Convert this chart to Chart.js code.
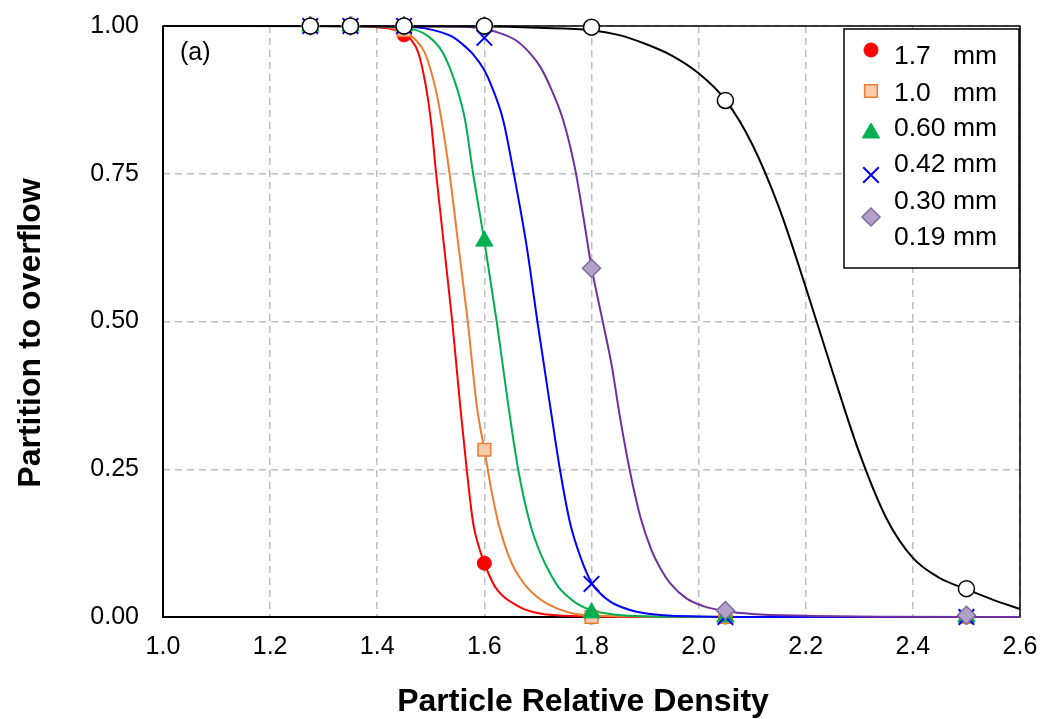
<!DOCTYPE html>
<html>
<head>
<meta charset="utf-8">
<script src="https://cdn.jsdelivr.net/npm/chart.js@4.4.1/dist/chart.umd.min.js"></script>
<style>
  body { margin: 0; background: #fff; }
  #chart { display: block; }
</style>
</head>
<body>
<canvas id="chart" width="1043" height="719"></canvas>
<script>
// measured partition points (symbols)
const densityX = [1.275, 1.35, 1.45, 1.6, 1.8, 2.05, 2.5];
const sizeLabels = ['1.7   mm', '1.0   mm', '0.60 mm', '0.42 mm', '0.30 mm', '0.19 mm'];
const meas17 = [1, 1, 0.985, 0.091, 0, 0, 0];
const meas10 = [1, 1, 0.993, 0.283, 0, 0, 0];
const meas060 = [1, 1, 1, 0.636, 0.007, 0, 0];
const meas042 = [1, 1, 1, 0.98, 0.056, 0, 0];
const meas030 = [1, 1, 1, 1, 0.59, 0.011, 0.003];
const meas019 = [1, 1, 1, 1, 0.998, 0.874, 0.048];

// fitted curves
const fit17X = [1.0, 1.30, 1.38, 1.42, 1.445, 1.462, 1.477, 1.491, 1.500, 1.510, 1.525, 1.540, 1.555, 1.567, 1.579, 1.590, 1.600, 1.610, 1.620, 1.635, 1.654, 1.675, 1.704, 1.75, 1.82, 2.0, 2.6];
const fit17Y = [1.0, 1.0, 0.999, 0.996, 0.990, 0.978, 0.954, 0.897, 0.841, 0.750, 0.625, 0.500, 0.356, 0.250, 0.159, 0.118, 0.091, 0.069, 0.051, 0.035, 0.023, 0.013, 0.006, 0.002, 0.0005, 0, 0];
const fit10X = [1.0, 1.30, 1.40, 1.43, 1.45, 1.470, 1.489, 1.508, 1.520, 1.535, 1.552, 1.569, 1.586, 1.600, 1.613, 1.626, 1.638, 1.651, 1.665, 1.679, 1.697, 1.716, 1.740, 1.766, 1.81, 1.90, 2.05, 2.6];
const fit10Y = [1.0, 1.0, 0.999, 0.996, 0.990, 0.978, 0.954, 0.897, 0.841, 0.750, 0.625, 0.500, 0.356, 0.283, 0.215, 0.159, 0.122, 0.091, 0.068, 0.051, 0.035, 0.023, 0.013, 0.006, 0.002, 0.0005, 0, 0];
const fit060X = [1.0, 1.30, 1.42, 1.46, 1.486, 1.505, 1.523, 1.548, 1.564, 1.579, 1.600, 1.623, 1.645, 1.663, 1.685, 1.700, 1.713, 1.738, 1.755, 1.772, 1.800, 1.828, 1.87, 1.95, 2.10, 2.6];
const fit060Y = [1.0, 1.0, 0.999, 0.996, 0.988, 0.975, 0.954, 0.897, 0.841, 0.750, 0.636, 0.500, 0.356, 0.250, 0.159, 0.118, 0.091, 0.051, 0.035, 0.023, 0.011, 0.006, 0.002, 0.0005, 0, 0];
const fit042X = [1.0, 1.35, 1.45, 1.49, 1.517, 1.540, 1.558, 1.579, 1.600, 1.614, 1.635, 1.655, 1.679, 1.699, 1.723, 1.741, 1.760, 1.780, 1.800, 1.815, 1.835, 1.858, 1.884, 1.934, 2.00, 2.10, 2.6];
const fit042Y = [1.0, 1.0, 0.999, 0.996, 0.990, 0.982, 0.970, 0.952, 0.925, 0.897, 0.841, 0.750, 0.627, 0.500, 0.356, 0.250, 0.159, 0.100, 0.058, 0.041, 0.026, 0.016, 0.009, 0.003, 0.001, 0, 0];
const fit030X = [1.0, 1.45, 1.55, 1.60, 1.629, 1.660, 1.685, 1.705, 1.723, 1.747, 1.769, 1.785, 1.800, 1.821, 1.838, 1.853, 1.871, 1.891, 1.912, 1.930, 1.947, 1.978, 2.010, 2.05, 2.10, 2.20, 2.35, 2.6];
const fit030Y = [1.0, 1.0, 0.999, 0.995, 0.988, 0.975, 0.954, 0.930, 0.897, 0.841, 0.760, 0.676, 0.592, 0.500, 0.424, 0.339, 0.250, 0.170, 0.113, 0.080, 0.057, 0.031, 0.018, 0.010, 0.005, 0.002, 0.0005, 0];
const fit019X = [1.0, 1.6, 1.7, 1.8, 1.85, 1.9, 1.95, 2.0, 2.05, 2.1, 2.15, 2.2, 2.25, 2.3, 2.35, 2.4, 2.45, 2.5, 2.55, 2.6];
const fit019Y = [1.0, 0.999, 0.997, 0.993, 0.985, 0.970, 0.950, 0.920, 0.875, 0.800, 0.693, 0.558, 0.415, 0.278, 0.168, 0.100, 0.066, 0.047, 0.029, 0.0135];

const xTickValues = [1.0, 1.2, 1.4, 1.6, 1.8, 2.0, 2.2, 2.4, 2.6];
const yTickValues = [0, 0.25, 0.5, 0.75, 1.0];

// one entry per size fraction, in legend order
const series = [
    { label: sizeLabels[0], meas: meas17, fitX: fit17X, fitY: fit17Y, line: '#FF0000', style: 'circle', radius: 7, fill: '#FF0000', border: '#FF0000', bw: 1 },
    { label: sizeLabels[1], meas: meas10, fitX: fit10X, fitY: fit10Y, line: '#ED7D31', style: 'rect', radius: 9, fill: '#F8CBAD', border: '#ED7D31', bw: 1.5 },
    { label: sizeLabels[2], meas: meas060, fitX: fit060X, fitY: fit060Y, line: '#00B050', style: 'triangle', radius: 10, fill: '#00B050', border: '#00B050', bw: 1 },
    { label: sizeLabels[3], meas: meas042, fitX: fit042X, fitY: fit042Y, line: '#0000FF', style: 'crossRot', radius: 11, fill: '#0000FF', border: '#0000FF', bw: 2 },
    { label: sizeLabels[4], meas: meas030, fitX: fit030X, fitY: fit030Y, line: '#7030A0', style: 'rectRot', radius: 9, fill: '#B1A0C7', border: '#7F6A9F', bw: 1.5 },
    { label: sizeLabels[5], meas: meas019, fitX: fit019X, fitY: fit019Y, line: '#000000', style: 'circle', radius: 8, fill: '#FFFFFF', border: '#000000', bw: 1.5 }
];

// first dataset is drawn on top, so go from the last series to the first
const markerSets = series.slice().reverse().map(s => ({
    type: 'scatter',
    label: s.label,
    data: densityX.map((x, i) => ({ x: x, y: s.meas[i] })),
    pointStyle: s.style,
    pointRadius: s.radius,
    pointHoverRadius: s.radius,
    backgroundColor: s.fill,
    borderColor: s.border,
    pointBorderWidth: s.bw,
    showLine: false,
    clip: false
}));
const curveSets = series.slice().reverse().map(s => ({
    type: 'line',
    label: s.label + ' fit',
    data: s.fitX.map((x, i) => ({ x: x, y: s.fitY[i] })),
    borderColor: s.line,
    borderWidth: 2,
    pointRadius: 0,
    fill: false,
    cubicInterpolationMode: 'monotone',
    clip: false
}));

const FONT = '"Liberation Sans", Arial, sans-serif';

// frame, (a) label, axis titles and the boxed legend
const decorations = {
    id: 'decorations',
    beforeDatasetsDraw(chart) {
        const ctx = chart.ctx;
        const a = chart.chartArea;
        ctx.save();
        ctx.strokeStyle = '#000';
        ctx.lineWidth = 1.5;
        ctx.strokeRect(a.left, a.top, a.right - a.left, a.bottom - a.top);
        ctx.lineWidth = 2;
        ctx.beginPath();
        ctx.moveTo(a.left, a.top);
        ctx.lineTo(a.left, a.bottom);
        ctx.lineTo(a.right, a.bottom);
        ctx.stroke();

        ctx.fillStyle = '#000';
        ctx.font = '25px ' + FONT;
        ctx.textAlign = 'left';
        ctx.textBaseline = 'middle';
        ctx.fillText('(a)', 180, 53);
        ctx.restore();
    },
    afterDraw(chart) {
        const ctx = chart.ctx;
        ctx.save();
        // axis titles
        ctx.fillStyle = '#000';
        ctx.font = 'bold 32px ' + FONT;
        ctx.textAlign = 'center';
        ctx.textBaseline = 'middle';
        ctx.fillText('Particle Relative Density', 583, 702);
        ctx.translate(31, 333);
        ctx.rotate(-Math.PI / 2);
        ctx.fillText('Partition to overflow', 0, 0);
        ctx.restore();

        // legend box
        ctx.save();
        ctx.fillStyle = '#fff';
        ctx.fillRect(844, 29, 175, 239);
        ctx.strokeStyle = '#000';
        ctx.lineWidth = 1.5;
        ctx.strokeRect(844, 29, 175, 239);
        const markerY = [50, 91, 133, 175, 217];
        const textY = [57, 94, 129, 165, 202, 238];
        ctx.font = '26.5px ' + FONT;
        ctx.textAlign = 'left';
        ctx.textBaseline = 'middle';
        series.forEach((s, i) => {
            ctx.fillStyle = '#000';
            ctx.fillText(s.label, 894, textY[i]);
            if (i < markerY.length) {
                ctx.fillStyle = s.fill;
                ctx.strokeStyle = s.border;
                ctx.lineWidth = s.bw;
                Chart.helpers.drawPoint(ctx, { pointStyle: s.style, radius: s.radius, rotation: 0, borderWidth: s.bw }, 871, markerY[i]);
            }
        });
        ctx.restore();
    }
};

new Chart(document.getElementById('chart'), {
    data: { datasets: markerSets.concat(curveSets) },
    options: {
        responsive: false,
        animation: false,
        devicePixelRatio: 1,
        layout: { padding: { left: 0, right: 23, top: 26, bottom: 0 } },
        plugins: {
            legend: { display: false },
            tooltip: { enabled: false }
        },
        scales: {
            x: {
                type: 'linear',
                min: 1.0,
                max: 2.6,
                afterFit: scale => {
                    scale.height = 102;
                    scale.paddingLeft = 0;
                    scale.paddingRight = 0;
                },
                afterBuildTicks: scale => { scale.ticks = xTickValues.map(v => ({ value: v })); },
                ticks: {
                    color: '#000',
                    padding: 15,
                    font: { family: FONT, size: 25 },
                    callback: v => Number(v).toFixed(1)
                },
                grid: { color: '#BFBFBF', lineWidth: 1.5, drawTicks: false },
                border: { display: false, dash: [7, 5] }
            },
            y: {
                type: 'linear',
                min: 0,
                max: 1,
                afterFit: scale => {
                    scale.width = 163;
                    scale.paddingTop = 0;
                    scale.paddingBottom = 0;
                },
                afterBuildTicks: scale => { scale.ticks = yTickValues.map(v => ({ value: v })); },
                ticks: {
                    color: '#000',
                    padding: 24,
                    font: { family: FONT, size: 25 },
                    callback: v => Number(v).toFixed(2)
                },
                grid: { color: '#BFBFBF', lineWidth: 1.5, drawTicks: false },
                border: { display: false, dash: [7, 5] }
            }
        }
    },
    plugins: [decorations]
});
</script>
</body>
</html>
